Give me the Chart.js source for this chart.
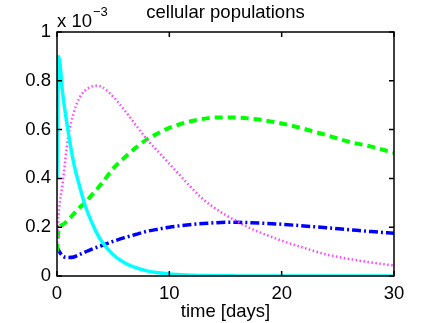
<!DOCTYPE html>
<html>
<head>
<meta charset="utf-8">
<script src="https://cdn.jsdelivr.net/npm/chart.js@4"></script>
<style>
  body { margin: 0; background: #fff; }
  canvas { display: block; }
</style>
</head>
<body>
<canvas id="meuGrafico" width="436" height="323"></canvas>
<script>
// tempo em dias
const tempos = [0, 0.15, 0.5, 1, 1.5, 2, 2.5, 3, 3.5, 4, 5, 6, 7, 8, 9, 10, 11, 12, 13, 14, 15, 16, 17, 18, 20, 22, 24, 26, 28, 30];

// populacoes (x 10^-3)
const ciano = [0.40, 0.90, 0.75, 0.59, 0.46, 0.37, 0.29, 0.23, 0.18, 0.14, 0.087, 0.054, 0.034, 0.021, 0.013, 0.008, 0.005, 0.003, 0.002, 0.001, 0.001, 0.0005, 0, 0, 0, 0, 0, 0, 0, 0];
const magenta = [0.12, 0.25, 0.38, 0.57, 0.67, 0.73, 0.76, 0.775, 0.78, 0.775, 0.735, 0.68, 0.62, 0.56, 0.51, 0.46, 0.41, 0.36, 0.315, 0.28, 0.25, 0.225, 0.20, 0.18, 0.145, 0.115, 0.088, 0.07, 0.055, 0.043];
const verde = [0.10, 0.19, 0.21, 0.23, 0.255, 0.28, 0.30, 0.327, 0.353, 0.38, 0.44, 0.485, 0.525, 0.56, 0.585, 0.607, 0.623, 0.635, 0.644, 0.649, 0.65, 0.649, 0.646, 0.641, 0.625, 0.603, 0.577, 0.55, 0.53, 0.505];
const azul = [0.12, 0.105, 0.082, 0.076, 0.078, 0.088, 0.098, 0.108, 0.117, 0.125, 0.142, 0.157, 0.17, 0.183, 0.192, 0.20, 0.206, 0.211, 0.215, 0.218, 0.22, 0.22, 0.219, 0.217, 0.212, 0.205, 0.198, 0.19, 0.182, 0.175];

const ticksX = [0, 10, 20, 30];
const ticksY = [0, 0.2, 0.4, 0.6, 0.8, 1];
const rotulosY = ['0', '0.2', '0.4', '0.6', '0.8', '1'];

const fonte = "'Liberation Sans', Arial, Helvetica, sans-serif";
const tam = 18.5;

function pontos(vals) {
  return tempos.map((t, i) => ({ x: t, y: vals[i] }));
}

// caixa, ticks para dentro, titulo e o "x 10^-3"
const moldura = {
  id: 'moldura',
  afterDraw(chart) {
    const ctx = chart.ctx;
    const a = chart.chartArea;
    const sx = chart.scales.x, sy = chart.scales.y;
    ctx.save();
    ctx.strokeStyle = '#000';
    ctx.lineWidth = 1.5;
    ctx.strokeRect(a.left, a.top, a.right - a.left, a.bottom - a.top);
    ctx.beginPath();
    ticksX.forEach(v => {
      const px = sx.getPixelForValue(v);
      ctx.moveTo(px, a.bottom); ctx.lineTo(px, a.bottom - 5);
      ctx.moveTo(px, a.top); ctx.lineTo(px, a.top + 5);
    });
    ticksY.forEach(v => {
      const py = sy.getPixelForValue(v);
      ctx.moveTo(a.left, py); ctx.lineTo(a.left + 5, py);
      ctx.moveTo(a.right, py); ctx.lineTo(a.right - 5, py);
    });
    ctx.stroke();

    ctx.fillStyle = '#000';
    ctx.textBaseline = 'alphabetic';
    ctx.textAlign = 'center';
    ctx.font = tam + 'px ' + fonte;
    ctx.fillText('cellular populations', (a.left + a.right) / 2, 18);

    ctx.textAlign = 'left';
    ctx.fillText('x 10', a.left, 27);
    const w = ctx.measureText('x 10').width;
    ctx.font = '13px ' + fonte;
    ctx.fillText('\u22123', a.left + w + 1, 16);
    ctx.restore();
  }
};

new Chart(document.getElementById('meuGrafico'), {
  type: 'line',
  data: {
    datasets: [
      { label: 'ciano', data: pontos(ciano), borderColor: '#00ffff', borderWidth: 3.5 },
      { label: 'magenta', data: pontos(magenta), borderColor: '#ff44ff', borderWidth: 2.5, borderDash: [1.5, 2.5] },
      { label: 'verde', data: pontos(verde), borderColor: '#00ff00', borderWidth: 4, borderDash: [8, 5] },
      { label: 'azul', data: pontos(azul), borderColor: '#0000ff', borderWidth: 3.5, borderDash: [9, 3, 2, 3] }
    ]
  },
  options: {
    responsive: false,
    animation: false,
    elements: {
      point: { radius: 0 },
      line: { cubicInterpolationMode: 'monotone', borderCapStyle: 'butt' }
    },
    layout: { padding: { left: 0, right: 42, top: 32, bottom: 0 } },
    plugins: { legend: { display: false }, tooltip: { enabled: false } },
    scales: {
      x: {
        type: 'linear', min: 0, max: 30,
        afterBuildTicks: s => { s.ticks = ticksX.map(v => ({ value: v })); },
        afterFit: s => { s.height = 47; },
        grid: { display: false, drawTicks: false },
        border: { display: false },
        ticks: { color: '#000', font: { size: tam, family: fonte }, padding: 7, maxRotation: 0 },
        title: { display: true, text: 'time [days]', color: '#000', font: { size: tam, family: fonte }, padding: 0 }
      },
      y: {
        type: 'linear', min: 0, max: 1,
        afterBuildTicks: s => { s.ticks = ticksY.map(v => ({ value: v })); },
        afterFit: s => { s.width = 57; },
        grid: { display: false, drawTicks: false },
        border: { display: false },
        ticks: {
          color: '#000', font: { size: tam, family: fonte }, padding: 6,
          callback: (v, i) => rotulosY[i]
        }
      }
    }
  },
  plugins: [moldura]
});
</script>
</body>
</html>
